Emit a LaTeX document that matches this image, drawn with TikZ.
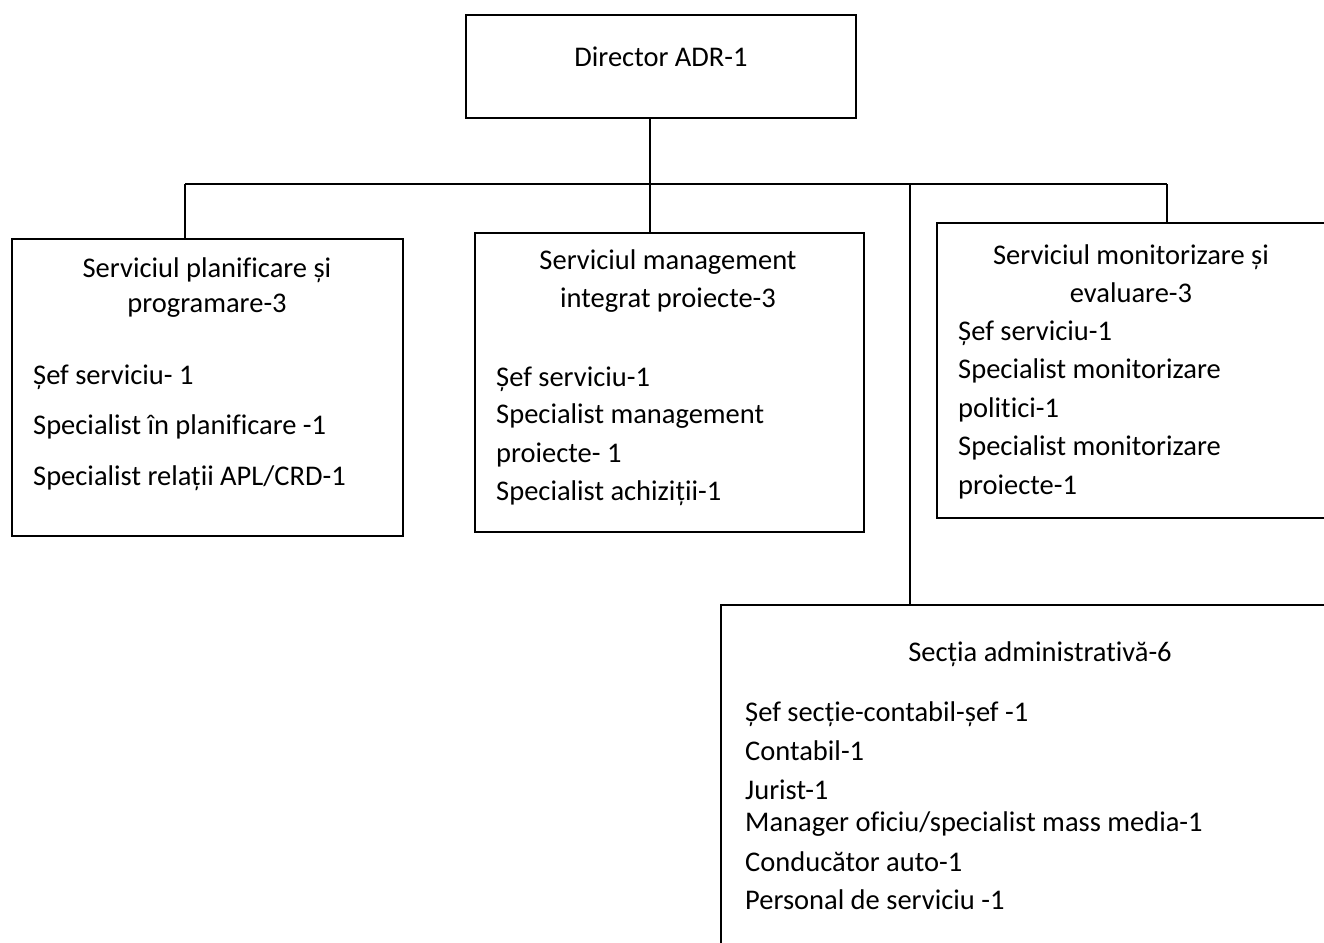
\documentclass[tikz,border=0pt]{standalone}
\usepackage{fontspec}
\setmainfont[Ligatures=NoCommon]{Carlito}
\begin{document}
\begin{tikzpicture}[x=1pt,y=-1pt,
  box/.style={draw, line width=1.8pt, rectangle, inner sep=0pt, outer sep=0pt, anchor=north west},
  conn/.style={line width=1.3pt},
  title/.style={font=\fontsize{28.5}{34}\selectfont, inner sep=0pt, anchor=mid, yshift=-7pt},
  item/.style={font=\fontsize{28.5}{34}\selectfont, inner sep=0pt, anchor=mid west, yshift=-7pt}]
\useasboundingbox (0,0) rectangle (1324,942);
\fill[white] (0,0) rectangle (1324,942);
\clip (0,0) rectangle (1324,942);

% boxes
\node[box, minimum width=390pt, minimum height=103pt] (dir) at (466,15) {};
\node[box, minimum width=391pt, minimum height=297pt] (b1) at (12,239) {};
\node[box, minimum width=389pt, minimum height=299pt] (b2) at (475,233) {};
\node[box, minimum width=480pt, minimum height=295pt] (b3) at (937,223) {};
\node[box, minimum width=700pt, minimum height=400pt] (b4) at (721,605) {};

% bus
\coordinate (busL) at (185,184);
\coordinate (busR) at (1167,184);
\coordinate (busM) at (650,184);
\coordinate (busS) at (910,184);
\draw[conn] (busL) -- (busR);
\draw[conn] (dir.south -| busM) -- (b2.north -| busM);
\draw[conn] (busL) -- (b1.north -| busL);
\draw[conn] (busR) -- (b3.north -| busR);
\draw[conn] (busS) -- (b4.north -| busS);

% texts
\node[title] (t0) at (661,57) {Director ADR-1};

\node[title] (t11) at (207,268) {Serviciul planificare și};
\node[title] (t12) at (207,303) {programare-3};
\node[item] (i11) at (33,375) {Șef serviciu- 1};
\node[item] (i12) at (33,425) {Specialist în planificare -1};
\node[item] (i13) at (33,476) {Specialist relații APL/CRD-1};

\node[title] (t21) at (668,260) {Serviciul management};
\node[title] (t22) at (668,298) {integrat proiecte-3};
\node[item] (i21) at (496,377) {Șef serviciu-1};
\node[item] (i22) at (496,414) {Specialist management};
\node[item] (i23) at (496,453) {proiecte- 1};
\node[item] (i24) at (496,491) {Specialist achiziții-1};

\node[title] (t31) at (1131,255) {Serviciul monitorizare și};
\node[title] (t32) at (1131,293) {evaluare-3};
\node[item] (i31) at (958,331) {Șef serviciu-1};
\node[item] (i32) at (958,369) {Specialist monitorizare};
\node[item] (i33) at (958,408) {politici-1};
\node[item] (i34) at (958,446) {Specialist monitorizare};
\node[item] (i35) at (958,485) {proiecte-1};

\node[title] (t41) at (1040,652) {Secția administrativă-6};
\node[item] (i41) at (745,712) {Șef secție-contabil-șef -1};
\node[item] (i42) at (745,751) {Contabil-1};
\node[item] (i43) at (745,790) {Jurist-1};
\node[item] (i44) at (745,822) {Manager oficiu/specialist mass media-1};
\node[item] (i45) at (745,862) {Conducător auto-1};
\node[item] (i46) at (745,900) {Personal de serviciu -1};
\end{tikzpicture}
\end{document}
